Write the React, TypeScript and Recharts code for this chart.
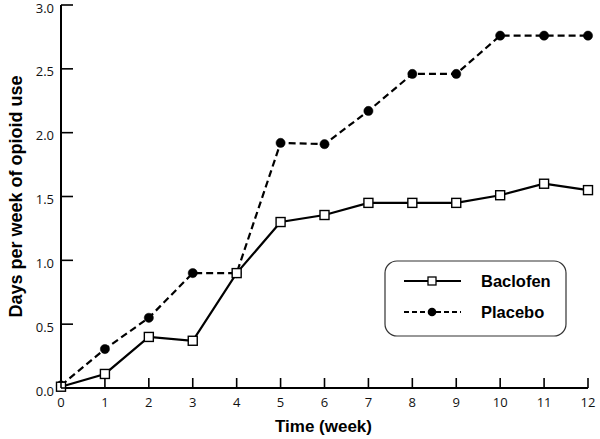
import React from 'react';
import { LineChart, Line, XAxis, YAxis, Legend } from 'recharts';

const weeks = [0, 1, 2, 3, 4, 5, 6, 7, 8, 9, 10, 11, 12];
const baclofen = [0.01, 0.11, 0.4, 0.37, 0.9, 1.3, 1.355, 1.45, 1.45, 1.45, 1.51, 1.6, 1.55];
const placebo = [0.02, 0.305, 0.55, 0.9, 0.9, 1.92, 1.91, 2.17, 2.46, 2.46, 2.76, 2.76, 2.76];
const yTicks = [0, 0.5, 1.0, 1.5, 2.0, 2.5, 3.0];
const seriesNames = ['Baclofen', 'Placebo'];

const data = weeks.map((w, i) => ({ week: w, baclofen: baclofen[i], placebo: placebo[i] }));

const tickFont = '"Open Sans", sans-serif';
const titleFont = '"Liberation Sans", Arial, sans-serif';

const XTick = (props: any) => {
  const { x, y, payload } = props;
  return (
    <g>
      <line x1={x} y1={y} x2={x} y2={y - 10} stroke="#000" strokeWidth={1.6} />
      <text x={x} y={y + 19} textAnchor="middle" fontFamily={tickFont} fontSize={13} fill="#111">
        {payload.value}
      </text>
    </g>
  );
};

const YTick = (props: any) => {
  const { x, y, payload } = props;
  return (
    <g>
      <line x1={x} y1={y} x2={x + 12} y2={y} stroke="#000" strokeWidth={1.6} />
      <text x={x - 7} y={y + 7.5} textAnchor="end" fontFamily={tickFont} fontSize={13} fill="#111">
        {Number(payload.value).toFixed(1)}
      </text>
    </g>
  );
};

const SquareDot = (props: any) => {
  const { cx, cy, index } = props;
  return <rect key={`s${index}`} x={cx - 4.5} y={cy - 4.5} width={9} height={9} fill="#fff" stroke="#000" strokeWidth={1.4} />;
};

const CircleDot = (props: any) => {
  const { cx, cy, index } = props;
  return <circle key={`c${index}`} cx={cx} cy={cy} r={4.6} fill="#000" stroke="#000" strokeWidth={0.5} />;
};

const LegendBox = () => (
  <svg width={184} height={78} style={{ display: 'block' }}>
    <rect x={1} y={1} width={181} height={75} rx={12} ry={12} fill="#fff" stroke="#333" strokeWidth={1.2} />
    <line x1={20} y1={21} x2={77} y2={21} stroke="#000" strokeWidth={2.2} />
    <rect x={44} y={17} width={8} height={8} fill="#fff" stroke="#000" strokeWidth={1.3} />
    <text x={97} y={27} fontFamily={titleFont} fontWeight="bold" fontSize={16.5} fill="#000">{seriesNames[0]}</text>
    <line x1={20} y1={52} x2={77} y2={52} stroke="#000" strokeWidth={2.2} strokeDasharray="5 3" />
    <circle cx={48} cy={52} r={4.3} fill="#000" />
    <text x={97} y={58} fontFamily={titleFont} fontWeight="bold" fontSize={16.5} fill="#000">{seriesNames[1]}</text>
  </svg>
);

export default function App() {
  return (
    <div style={{ position: 'relative', width: 600, height: 439, background: '#fff' }}>
      <style>{`body{margin:0;background:#fff}`}</style>
      <LineChart width={600} height={439} data={data} margin={{ top: 5, right: 12, left: 0, bottom: 0 }}>
        <XAxis
          dataKey="week"
          type="number"
          domain={[0, 12]}
          ticks={weeks}
          interval={0}
          height={51}
          tickSize={0}
          tickMargin={0}
          tickLine={false}
          axisLine={{ stroke: '#000', strokeWidth: 2 }}
          tick={<XTick />}
          label={{
            content: (p: any) => {
              const vb = p.viewBox;
              return (
                <text x={vb.x + vb.width / 2 - 1} y={vb.y + 44} textAnchor="middle" fontFamily={titleFont} fontWeight="bold" fontSize={17} fill="#000">
                  Time (week)
                </text>
              );
            },
          }}
        />
        <YAxis
          type="number"
          domain={[0, 3]}
          ticks={yTicks}
          interval={0}
          width={61}
          tickSize={0}
          tickMargin={0}
          tickLine={false}
          axisLine={{ stroke: '#000', strokeWidth: 2 }}
          tick={<YTick />}
          label={{
            content: (p: any) => {
              const vb = p.viewBox;
              const cx = vb.x + 22;
              const cy = vb.y + vb.height / 2;
              return (
                <text x={cx} y={cy} transform={`rotate(-90, ${cx}, ${cy})`} textAnchor="middle" fontFamily={titleFont} fontWeight="bold" fontSize={18} fill="#000">
                  Days per week of opioid use
                </text>
              );
            },
          }}
        />
        <Legend
          layout="vertical"
          align="center"
          verticalAlign="middle"
          content={() => <LegendBox />}
          wrapperStyle={{ position: 'absolute', left: 384, top: 260, width: 184, height: 78 }}
        />
        <Line
          type="linear"
          dataKey="placebo"
          name={seriesNames[1]}
          stroke="#000"
          strokeWidth={2.2}
          strokeDasharray="7 4"
          dot={<CircleDot />}
          activeDot={false}
          isAnimationActive={false}
        />
        <Line
          type="linear"
          dataKey="baclofen"
          name={seriesNames[0]}
          stroke="#000"
          strokeWidth={2.2}
          dot={<SquareDot />}
          activeDot={false}
          isAnimationActive={false}
        />
      </LineChart>
    </div>
  );
}
